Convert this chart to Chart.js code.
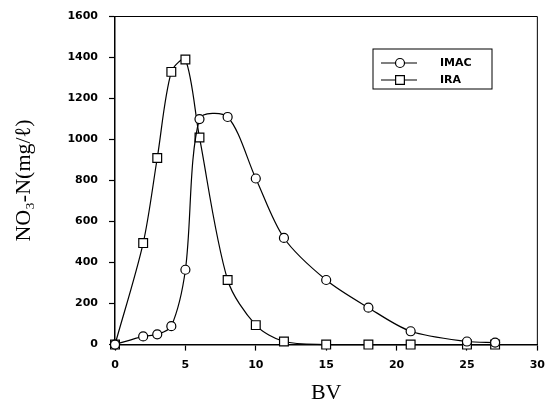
<!DOCTYPE html>
<html>
<head>
<meta charset="utf-8">
<script src="https://cdn.jsdelivr.net/npm/chart.js@4.4.0/dist/chart.umd.min.js"></script>
<style>
  html, body { margin: 0; padding: 0; background: #fff; }
</style>
</head>
<body>
<canvas id="bvChart" width="554" height="406"></canvas>
<script>
// data
const bvValues = [0, 2, 3, 4, 5, 6, 8, 10, 12, 15, 18, 21, 25, 27];
const imacValues = [0, 40, 50, 90, 365, 1100, 1110, 810, 520, 315, 180, 65, 15, 10];
const iraValues = [0, 495, 910, 1330, 1390, 1010, 315, 95, 15, 0, 0, 0, 0, 0];
const seriesLabels = ['IMAC', 'IRA'];
const xTicks = [0, 5, 10, 15, 20, 25, 30];
const yTicks = [0, 200, 400, 600, 800, 1000, 1200, 1400, 1600];

const tickFont = { family: 'DejaVu Sans', weight: 'bold', size: 11, lineHeight: 1 };
const titleFont = { family: 'Liberation Serif', size: 22 };

function toPoints(xs, ys) {
    return xs.map((x, i) => ({ x: x, y: ys[i] }));
}

// top + right frame lines, like the original box
const frameLines = {
    id: 'frameLines',
    beforeDatasetsDraw(chart) {
        const { ctx, chartArea } = chart;
        ctx.save();
        ctx.strokeStyle = '#000';
        ctx.lineWidth = 1;
        ctx.beginPath();
        ctx.moveTo(chartArea.left, chartArea.top);
        ctx.lineTo(chartArea.right, chartArea.top);
        ctx.lineTo(chartArea.right, chartArea.bottom);
        ctx.stroke();
        ctx.restore();
    }
};

// boxed legend in the upper right corner
const boxLegend = {
    id: 'boxLegend',
    afterDatasetsDraw(chart) {
        const ctx = chart.ctx;
        const bx = 373, by = 49, bw = 119, bh = 40;
        ctx.save();
        ctx.fillStyle = '#fff';
        ctx.fillRect(bx, by, bw, bh);
        ctx.strokeStyle = '#000';
        ctx.lineWidth = 1;
        ctx.strokeRect(bx, by, bw, bh);
        chart.data.datasets.forEach((ds, i) => {
            const y = by + 14 + i * 17;
            ctx.strokeStyle = '#000';
            ctx.lineWidth = 1.2;
            ctx.beginPath();
            ctx.moveTo(bx + 8, y);
            ctx.lineTo(bx + 44, y);
            ctx.stroke();
            ctx.fillStyle = '#fff';
            Chart.helpers.drawPoint(ctx, {
                pointStyle: ds.pointStyle,
                radius: ds.pointRadius,
                rotation: 0,
                borderWidth: ds.pointBorderWidth
            }, bx + 27, y);
            ctx.fillStyle = '#000';
            ctx.font = 'bold 11px "DejaVu Sans"';
            ctx.textBaseline = 'middle';
            ctx.fillText(ds.label, bx + 67, y);
        });
        ctx.restore();
    }
};

new Chart(document.getElementById('bvChart'), {
    type: 'line',
    data: {
        datasets: [
            {
                label: seriesLabels[0],
                data: toPoints(bvValues, imacValues),
                borderColor: '#000',
                borderWidth: 1.2,
                pointStyle: 'circle',
                pointRadius: 4.5,
                pointBorderWidth: 1.2,
                pointBackgroundColor: '#fff',
                pointBorderColor: '#000',
                tension: 0.3,
                clip: false
            },
            {
                label: seriesLabels[1],
                data: toPoints(bvValues, iraValues),
                borderColor: '#000',
                borderWidth: 1.2,
                pointStyle: 'rect',
                pointRadius: 6.2,
                pointBorderWidth: 1.2,
                pointBackgroundColor: '#fff',
                pointBorderColor: '#000',
                tension: 0.3,
                clip: false
            }
        ]
    },
    options: {
        responsive: false,
        animation: false,
        layout: { padding: { left: 6, right: 15, top: 16, bottom: 0 } },
        plugins: {
            legend: { display: false },
            tooltip: { enabled: false }
        },
        scales: {
            x: {
                type: 'linear',
                min: 0,
                max: 30,
                afterBuildTicks: axis => { axis.ticks = xTicks.map(v => ({ value: v })); },
                border: { display: true, color: '#000', width: 1.5 },
                grid: { drawOnChartArea: false, drawTicks: true, tickLength: 6, tickWidth: 1.2, tickColor: '#000' },
                ticks: { color: '#000', font: tickFont, padding: 9, maxRotation: 0, callback: v => String(v) },
                title: { display: true, text: 'BV', color: '#000', font: titleFont, padding: { top: 0, bottom: 0 } }
            },
            y: {
                min: 0,
                max: 1600,
                afterBuildTicks: axis => { axis.ticks = yTicks.map(v => ({ value: v })); },
                border: { display: true, color: '#000', width: 1.5 },
                grid: { drawOnChartArea: false, drawTicks: true, tickLength: 6, tickWidth: 1.2, tickColor: '#000' },
                ticks: { color: '#000', font: tickFont, padding: 11, callback: v => String(v) },
                title: { display: true, text: 'NO₃-N(mg/ℓ)', color: '#000', font: titleFont, padding: { top: 5, bottom: 19 } }
            }
        }
    },
    plugins: [frameLines, boxLegend]
});
</script>
</body>
</html>
